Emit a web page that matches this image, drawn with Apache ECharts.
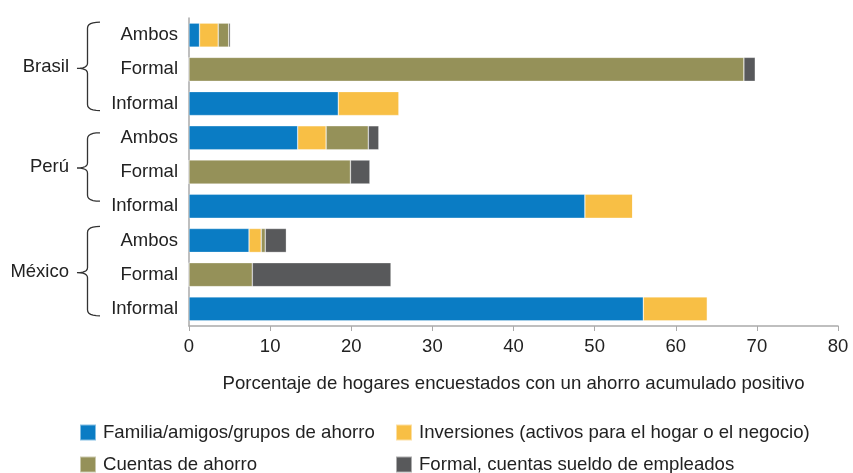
<!DOCTYPE html>
<html><head><meta charset="utf-8">
<script src="https://cdn.jsdelivr.net/npm/echarts@6/dist/echarts.min.js"></script>
<style>html,body{margin:0;padding:0;background:#fff}#c{width:853px;height:473px}</style>
</head><body><div id="c"></div>
<script>
const countries = ['Brasil', 'Perú', 'México'];
const categories = ['Brasil|Ambos','Brasil|Formal','Brasil|Informal','Perú|Ambos','Perú|Formal','Perú|Informal','México|Ambos','México|Formal','México|Informal'];
const familia =     [1.3, 0,    18.4, 13.4, 0,    48.8, 7.4, 0,    56.0];
const inversiones = [2.3, 0,    7.5,  3.5,  0,    5.9,  1.5, 0,    7.9];
const cuentas =     [1.3, 68.4, 0,    5.2,  19.9, 0,    0.5, 7.8,  0];
const formal =      [0.2, 1.4,  0,    1.3,  2.4,  0,    2.6, 17.1, 0];
const seriesNames = ['Familia/amigos/grupos de ahorro','Inversiones (activos para el hogar o el negocio)','Cuentas de ahorro','Formal, cuentas sueldo de empleados'];
const colors = ['#0a7cc4','#f8bf45','#959159','#58595b'];
const FONT = '"Liberation Sans", Arial, sans-serif';

const chart = echarts.init(document.getElementById('c'));
const vals = [familia, inversiones, cuentas, formal];
const series = seriesNames.map((n,i)=>({
  name:n, type:'bar', stack:'s', data: vals[i], barWidth:'70%',
  itemStyle:{color:colors[i], borderColor:'rgba(255,255,255,0.5)', borderWidth:0.6},
  emphasis:{disabled:true}
}));
const legendPos = [[79,423],[395,423],[79,455],[395,455]];
const legends = seriesNames.map((n,i)=>({
  data:[n], left:legendPos[i][0], top:legendPos[i][1], itemWidth:16, itemHeight:16, itemGap:6,
  icon:'rect', selectedMode:false, padding:0,
  textStyle:{fontFamily:FONT, fontSize:18.6, color:'#222', padding:[1,0,0,2]}
}));
chart.setOption({
  animation:false,
  grid:{left:189, right:15, top:18, bottom:147},
  xAxis:{type:'value', min:0, max:80, interval:10,
    name:'Porcentaje de hogares encuestados con un ahorro acumulado positivo',
    nameLocation:'middle', nameGap:48,
    nameTextStyle:{fontFamily:FONT, fontSize:18.6, color:'#222'},
    axisLine:{show:true, lineStyle:{color:'#aaa', width:1.5}},
    axisTick:{show:true, length:5, lineStyle:{color:'#aaa'}},
    splitLine:{show:false},
    axisLabel:{fontFamily:FONT, fontSize:18.5, color:'#222', margin:11}
  },
  yAxis:{type:'category', inverse:true, data:categories,
    axisLine:{show:true, lineStyle:{color:'#aaa', width:1.5}},
    axisTick:{show:false},
    axisLabel:{fontFamily:FONT, fontSize:18.5, color:'#222', margin:11, formatter:v=>v.split('|')[1]}
  },
  legend:legends,
  series:series
});

// brace extents relative to category centres (decoration only)
const braceTopOff = [-13, -5, -14];
const braceBotOff = [7, -5, 7];
const braceMidOff = [-1, -4, -2];
function quad(p0, p1, p2, n){
  const pts=[];
  for(let k=1;k<=n;k++){const t=k/n;
    pts.push([(1-t)*(1-t)*p0[0]+2*(1-t)*t*p1[0]+t*t*p2[0],(1-t)*(1-t)*p0[1]+2*(1-t)*t*p1[1]+t*t*p2[1]]);}
  return pts;
}
function drawBraces(){
  const els = [];
  countries.forEach((c,ci)=>{
    const yTop = chart.convertToPixel({yAxisIndex:0}, categories[ci*3]);
    const yMid = chart.convertToPixel({yAxisIndex:0}, categories[ci*3+1]);
    const yBot = chart.convertToPixel({yAxisIndex:0}, categories[ci*3+2]);
    const t = yTop + braceTopOff[ci], b = yBot + braceBotOff[ci], m = yMid + braceMidOff[ci];
    const x = 87.5, xr = 100, xl = 77;
    let pts = [[xr,t]];
    pts = pts.concat(quad([xr,t],[x,t],[x,t+6],6));
    pts.push([x,m-5]);
    pts = pts.concat(quad([x,m-5],[x,m],[xl,m],6));
    pts = pts.concat(quad([xl,m],[x,m],[x,m+5],6));
    pts.push([x,b-6]);
    pts = pts.concat(quad([x,b-6],[x,b],[xr,b],6));
    els.push({type:'polyline', shape:{points:pts}, style:{fill:null, stroke:'#333', lineWidth:1.3}});
    els.push({type:'text', x:69, y:m-1, style:{text:c, font:'18.5px "Liberation Sans", Arial, sans-serif', fill:'#222', align:'right', verticalAlign:'middle'}});
  });
  chart.setOption({graphic:{elements:els}});
}
drawBraces();
</script></body></html>
